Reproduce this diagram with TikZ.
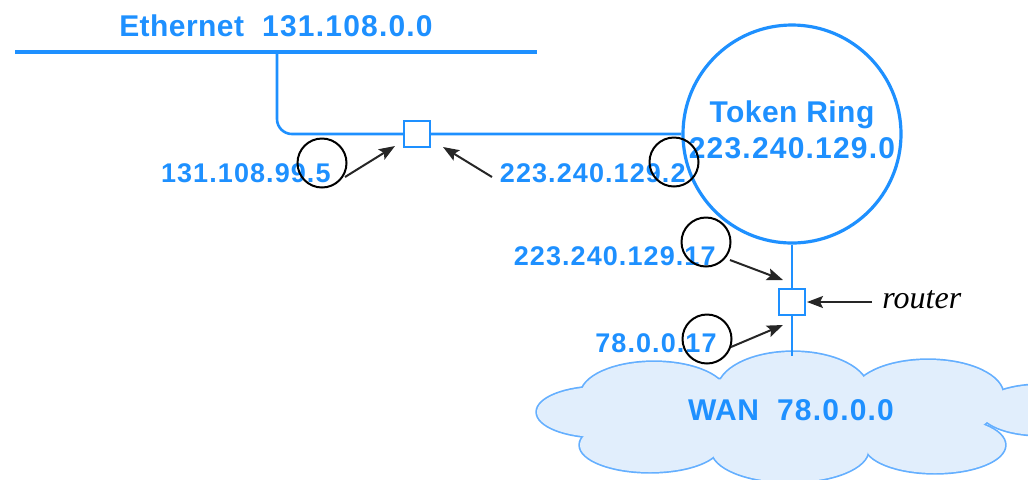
\documentclass[tikz,border=0pt]{standalone}
\usepackage{fontspec}
\newfontfamily\labfont{Liberation Sans}[LetterSpace=1.5]
\newfontfamily\numfont{Liberation Sans}[LetterSpace=4]
\newfontfamily\serfont{Liberation Serif}
\usetikzlibrary{arrows.meta}
\definecolor{netblue}{RGB}{30,144,255}
\definecolor{cloudfill}{RGB}{225,238,252}
\definecolor{cloudline}{RGB}{100,175,255}
\newcommand{\lwrd}[1]{{\labfont\bfseries #1}}
\newcommand{\lnum}[1]{{\numfont\bfseries #1}}
\begin{document}
\begin{tikzpicture}[x=0.5pt,y=-0.5pt,
  bigtxt/.style={text=netblue,font=\fontsize{15}{17}\selectfont,inner sep=0},
  smalltxt/.style={text=netblue,font=\fontsize{13.5}{15}\selectfont,inner sep=0},
  hilite/.style={draw=black,line width=1pt,circle,minimum size=24.5pt,inner sep=0},
  pointer/.style={draw=black!85,line width=1pt,-{Stealth[length=8pt,width=6pt,inset=1.5pt]}},
  netline/.style={draw=netblue,line width=1.3pt},
  routerbox/.style={draw=netblue,line width=1.3pt,fill=white,minimum size=13pt,inner sep=0},
]
\useasboundingbox (0,0) rectangle (1028,479);

% WAN cloud
\begin{scope}
\clip (0,0) rectangle (1028,479);
\foreach \cx/\cy/\rx/\ry in {654/395/73/33, 793/390/75/38, 928/395/75/35, 600/412/63/25,
  650/445/70/27, 790/450/78/32, 935/445/70/28, 1040/410/60/25, 790/415/200/38}
  \draw[cloudline,line width=1.7pt] (\cx,\cy) ellipse [x radius=\rx, y radius=\ry];
\foreach \cx/\cy/\rx/\ry in {654/395/73/33, 793/390/75/38, 928/395/75/35, 600/412/63/25,
  650/445/70/27, 790/450/78/32, 935/445/70/28, 1040/410/60/25, 790/415/200/38}
  \fill[cloudfill] (\cx,\cy) ellipse [x radius=\rx, y radius=\ry];
\end{scope}
\node[bigtxt,anchor=base] (wan) at (791,420) {\lwrd{WAN}\ \ \lnum{78.0.0.0}};

% Ethernet
\coordinate (ethL) at (15,52);
\coordinate (ethR) at (537,52);
\coordinate (drop) at (277,52);
\draw[draw=netblue,line width=2.3pt] (ethL) -- (ethR);
\node[bigtxt,anchor=base] (ethlbl) at (276,36) {\lwrd{Ethernet}\ \ \lnum{131.108.0.0}};

% Token ring
\node[circle,draw=netblue,line width=1.6pt,minimum size=109pt,inner sep=0] (ring) at (792,134) {};
\node[bigtxt,anchor=base] (ringname) at (792,122) {\lwrd{Token Ring}};
\node[bigtxt,anchor=base] (ringaddr) at (792,158) {\lnum{223.240.129.0}};

% links
\draw[netline,rounded corners=7.5pt] (drop) -- (277,134) -- (ring.west);
\coordinate (cloudtop) at (792,356);
\draw[netline] (ring.south) -- (cloudtop);

% routers
\node[routerbox] (r1) at (417,134) {};
\node[routerbox] (r2) at (792,302) {};

% address labels
\node[smalltxt,anchor=base east] (l1) at (331,182) {\lnum{131.108.99.5}};
\node[smalltxt,anchor=base east] (l2) at (686,182) {\lnum{223.240.129.2}};
\node[smalltxt,anchor=base east] (l3) at (716,265) {\lnum{223.240.129.17}};
\node[smalltxt,anchor=base east] (l4) at (717,352) {\lnum{78.0.0.17}};
\node[font=\serfont\itshape\fontsize{16}{18}\selectfont,inner sep=0,anchor=base west] (rlbl) at (882,308) {router};

% highlight circles
\node[hilite] (c1) at (322,163) {};
\node[hilite] (c2) at (674,162) {};
\node[hilite] (c3) at (706,242) {};
\node[hilite] (c4) at (707,339) {};

% pointers
\coordinate (a1s) at (345,177); \coordinate (a1e) at (395,146);
\coordinate (a2s) at (492,177); \coordinate (a2e) at (443,147);
\coordinate (a3s) at (730,260); \coordinate (a3e) at (783,280);
\coordinate (a4s) at (731,347); \coordinate (a4e) at (783,325);
\coordinate (a5s) at (872,302); \coordinate (a5e) at (807,302);
\draw[pointer] (a1s) -- (a1e);
\draw[pointer] (a2s) -- (a2e);
\draw[pointer] (a3s) -- (a3e);
\draw[pointer] (a4s) -- (a4e);
\draw[pointer] (a5s) -- (a5e);
\end{tikzpicture}
\end{document}
